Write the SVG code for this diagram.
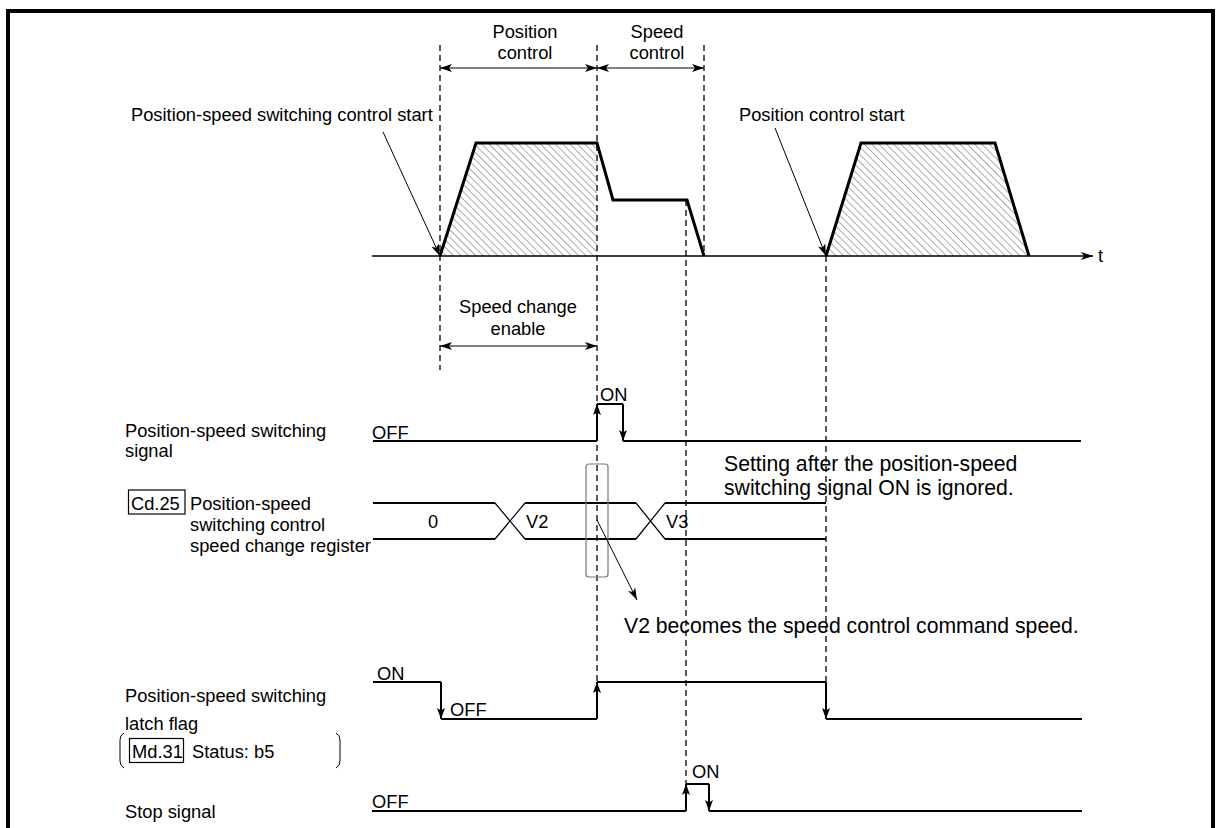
<svg xmlns="http://www.w3.org/2000/svg" width="1217" height="828" viewBox="0 0 1217 828">
<style>
text{font-family:"Liberation Sans",Arial,sans-serif;fill:#000;font-size:18.3px}
.big{font-size:21.2px}
.c{text-anchor:middle}
.dash{stroke:#000;stroke-width:1.3;stroke-dasharray:6 4;fill:none}
.sig{stroke:#000;stroke-width:2;fill:none}
.thin{stroke:#000;stroke-width:1.2;fill:none}
.prof{stroke:#000;stroke-width:3;fill:none;stroke-linejoin:miter}
</style>
<defs>
<marker id="dh" viewBox="0 0 12 8" refX="12" refY="4" markerWidth="12" markerHeight="8" markerUnits="userSpaceOnUse" orient="auto-start-reverse">
<path d="M0,0 L12,4 L0,8 L3,4 Z" fill="#000"/>
</marker>
<marker id="sa" viewBox="0 0 11 8" refX="11" refY="4" markerWidth="11" markerHeight="8" markerUnits="userSpaceOnUse" orient="auto">
<path d="M0,0 L11,4 L0,8 L2.5,4 Z" fill="#000"/>
</marker>
<pattern id="hatch" patternUnits="userSpaceOnUse" width="5.2" height="5.2" patternTransform="rotate(45)">
<line x1="0" y1="0" x2="5.2" y2="0" stroke="#333" stroke-width="0.8"/>
</pattern>
</defs>
<rect x="8" y="11" width="1205" height="900" fill="none" stroke="#000" stroke-width="4"/>

<g id="guides">
<line class="dash" x1="440" y1="45" x2="440" y2="370"/>
<line class="dash" x1="597" y1="45" x2="597" y2="682"/>
<line class="dash" x1="704" y1="45" x2="704" y2="256"/>
<line class="dash" x1="686" y1="200" x2="686" y2="784"/>
<line class="dash" x1="826" y1="256" x2="826" y2="682"/>
</g>

<g id="speed-profile">
<polygon points="440,256 476,143 597,143 597,256" fill="url(#hatch)"/>
<polygon points="826,256 861,143 995,143 1029,256" fill="url(#hatch)"/>
<path class="prof" d="M440,256 L476,143 H597 L613,200 H687 L704,256"/>
<path class="prof" d="M826,256 L861,143 H995 L1029,256"/>
<text x="1098" y="262">t</text>
</g>

<g id="label-position-control">
<text class="c" x="525" y="38">Position</text>
<text class="c" x="525" y="59">control</text>
</g>
<g id="label-speed-control">
<text class="c" x="657" y="38">Speed</text>
<text class="c" x="657" y="59">control</text>
</g>
<g id="label-ps-start">
<text x="131" y="121">Position-speed switching control start</text>
</g>
<g id="label-pos-start">
<text x="739" y="121">Position control start</text>
</g>
<g id="label-speed-change-enable">
<text class="c" x="518" y="313">Speed change</text>
<text class="c" x="518" y="335">enable</text>
</g>

<g id="ps-signal">
<text x="125" y="437">Position-speed switching</text>
<text x="125" y="457">signal</text>
<text x="372" y="439">OFF</text>
<text x="600" y="401">ON</text>
<path class="sig" d="M373,441 H597"/>
<path class="sig" d="M597,404 H623"/>
<path class="sig" stroke="#333" stroke-width="1.6" d="M623,441 H1081"/>
</g>

<g id="register">
<rect x="128.5" y="490" width="56.5" height="24" fill="none" stroke="#000" stroke-width="1.2"/>
<text x="131" y="510">Cd.25</text>
<text x="190" y="510">Position-speed</text>
<text x="190" y="531">switching control</text>
<text x="190" y="552">speed change register</text>
<path class="sig" d="M373,503 H495 M525,503 H636 M665,503 H826"/>
<path class="sig" d="M373,539 H495 M525,539 H636 M665,539 H826"/>
<path class="thin" d="M495,503 L525,539 M495,539 L525,503 M636,503 L665,539 M636,539 L665,503"/>
<text class="c" x="433" y="528">0</text>
<text x="526" y="528">V2</text>
<text x="666" y="528">V3</text>
<rect x="586" y="464" width="22" height="113" rx="3" fill="none" stroke="#777" stroke-width="1.2"/>
</g>

<g id="note-ignored">
<text class="big" x="724" y="471">Setting after the position-speed</text>
<text class="big" x="724" y="495">switching signal ON is ignored.</text>
</g>
<g id="note-v2">
<text class="big" x="624" y="633">V2 becomes the speed control command speed.</text>
</g>

<g id="latch-flag">
<text x="125" y="702">Position-speed switching</text>
<text x="125" y="730">latch flag</text>
<path d="M124,733 Q120,735 120,740 V761 Q120,766 124,768" fill="none" stroke="#000" stroke-width="1"/>
<path d="M336,733 Q340,735 340,740 V761 Q340,766 336,768" fill="none" stroke="#000" stroke-width="1"/>
<rect x="129.5" y="738.5" width="54" height="24" fill="none" stroke="#000" stroke-width="1.2"/>
<text x="132" y="758">Md.31</text>
<text x="192" y="758">Status: b5</text>
<text x="377" y="680">ON</text>
<text x="450" y="716">OFF</text>
<path class="sig" d="M373,682 H441"/>
<path class="sig" d="M441,719 H597"/>
<path class="sig" d="M597,682 H826"/>
<path class="sig" d="M826,719 H1082"/>
</g>

<g id="stop-signal">
<text x="125" y="818">Stop signal</text>
<text x="372" y="808">OFF</text>
<text x="692" y="778">ON</text>
<path class="sig" d="M372,811 H686"/>
<path class="sig" stroke-width="1.6" d="M686,784 H709"/>
<path class="sig" stroke="#555" stroke-width="1.6" d="M709,811 H1082"/>
</g>

<g id="connectors">
<line class="thin" x1="440" y1="68" x2="597" y2="68" marker-start="url(#dh)" marker-end="url(#dh)"/>
<line class="thin" x1="597" y1="68" x2="704" y2="68" marker-start="url(#dh)" marker-end="url(#dh)"/>
<line class="thin" x1="440" y1="346" x2="597" y2="346" marker-start="url(#dh)" marker-end="url(#dh)"/>
<line stroke="#000" stroke-width="1.5" x1="372" y1="256" x2="1093" y2="256" marker-end="url(#dh)"/>
<line stroke="#000" stroke-width="1" x1="383" y1="132" x2="440" y2="256" marker-end="url(#dh)"/>
<line stroke="#000" stroke-width="1" x1="775" y1="128" x2="826" y2="256" marker-end="url(#dh)"/>
<line stroke="#000" stroke-width="1" x1="597" y1="520" x2="637" y2="600" marker-end="url(#dh)"/>
<line class="sig" x1="597" y1="441" x2="597" y2="404" marker-end="url(#sa)"/>
<line class="sig" stroke-width="1.6" x1="623" y1="404" x2="623" y2="441" marker-end="url(#sa)"/>
<line class="sig" x1="441" y1="682" x2="441" y2="719" marker-end="url(#sa)"/>
<line class="sig" x1="597" y1="719" x2="597" y2="682" marker-end="url(#sa)"/>
<line class="sig" x1="826" y1="682" x2="826" y2="719" marker-end="url(#sa)"/>
<line class="sig" stroke-width="1.6" x1="686" y1="811" x2="686" y2="784" marker-end="url(#sa)"/>
<line class="sig" stroke-width="1.6" x1="709" y1="784" x2="709" y2="811" marker-end="url(#sa)"/>
</g>
</svg>
